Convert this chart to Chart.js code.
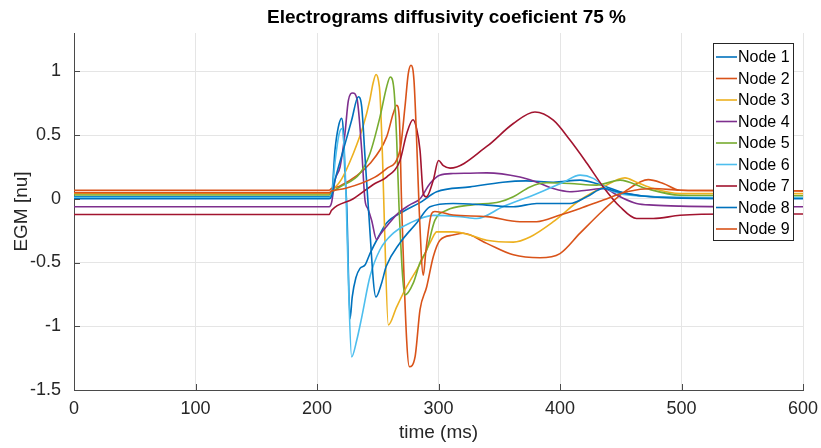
<!DOCTYPE html>
<html>
<head>
<meta charset="utf-8">
<script src="https://cdn.jsdelivr.net/npm/chart.js@4.4.1/dist/chart.umd.min.js"></script>
<style>html,body{margin:0;padding:0;background:#fff;}canvas{display:block;}</style>
</head>
<body>
<canvas id="c" width="821" height="448"></canvas>
<script>
// ---------- data ----------
const titleText = 'Electrograms diffusivity coeficient 75 %';
const xTitle = 'time (ms)';
const yTitle = 'EGM [nu]';
const xTicks = [0, 100, 200, 300, 400, 500, 600];
const yTicks = [-1.5, -1, -0.5, 0, 0.5, 1];
const seriesNames = ['Node 1','Node 2','Node 3','Node 4','Node 5','Node 6','Node 7','Node 8','Node 9'];
const seriesColors = ['#0072BD','#D95319','#EDB120','#7E2F8E','#77AC30','#4DBEEE','#A2142F','#0072BD','#D95319'];

const node1T = [0,210,212,214.8,217.5,220.3,221.6,223,224.5,227.2,229,232,235.4,239.5,243.6,250.5,257.3,271,284.8,298.5,326,353,372,394.5,416.5,430,438.4,449.4,463,499,540,600];
const node1V = [0.015,0.015,0.03,0.38,0.56,0.63,0.54,0.2,-0.06,-0.94,-0.77,-0.62,-0.546,-0.52,-0.43,-0.30,-0.19,-0.10,-0.03,0.055,0.093,0.13,0.14,0.13,0.146,0.12,0.093,0.055,0.028,0.01,0.005,0.005];

const node2T = [0,210,212,219,243.6,257.3,262.8,265.6,267.7,269.7,273.8,276,280.7,284.8,290.3,295.7,301.2,312,320.4,339.7,361.6,383.5,400,416.5,435.6,455,472.6,485,498.8,540,600];
const node2V = [0.067,0.067,0.08,0.1,0.277,0.485,0.67,0.733,0.64,-0.06,-1.11,-1.317,-1.24,-0.87,-0.69,-0.455,-0.325,-0.285,-0.27,-0.35,-0.44,-0.463,-0.43,-0.27,-0.09,0.067,0.15,0.12,0.067,0.064,0.062];

const node3T = [0,210,212,220,229.9,238,243.6,246,248.6,250.5,251.8,254,255.5,258.7,265.5,273.8,284.8,294.4,298.5,312,326,339.7,361.6,375.3,394.5,416.5,435.6,453.5,463,476.8,498.8,540,600];
const node3V = [0.04,0.04,0.06,0.15,0.355,0.57,0.78,0.9,0.974,0.93,0.825,0.3,-0.2,-0.99,-0.85,-0.69,-0.51,-0.32,-0.26,-0.26,-0.285,-0.325,-0.34,-0.30,-0.18,-0.01,0.093,0.164,0.13,0.08,0.04,0.04,0.04];

const node4T = [0,210,212,214.8,219,223,225.8,229.4,233,236.8,239.5,242,245,249,252,257,266,276,284.8,293,301,312,326,339.7,367,380.8,394.5,408.2,422,435.6,449.4,463,476.8,499,540,600];
const node4V = [-0.063,-0.063,-0.03,0.146,0.25,0.51,0.77,0.83,0.78,0.38,-0.01,-0.08,-0.17,-0.32,-0.28,-0.22,-0.12,-0.05,0.0,0.12,0.185,0.198,0.20,0.203,0.17,0.13,0.08,0.055,0.067,0.08,0.015,-0.037,-0.05,-0.058,-0.062,-0.063];

const node5T = [0,210,212,219,235.4,243.6,251.8,257.3,260.3,263.4,265.6,267.5,272.4,279.3,284.8,290.3,297,306.7,326,350.6,361.6,375.3,389,408.2,430,449.4,471,498.8,540,600];
const node5V = [0.03,0.03,0.05,0.093,0.2,0.355,0.64,0.877,0.955,0.85,0.46,-0.06,-0.755,-0.66,-0.5,-0.40,-0.17,-0.09,-0.05,-0.024,0.015,0.093,0.125,0.12,0.107,0.146,0.08,0.028,0.025,0.023];

const node6T = [0,210,212,215,218,220.5,222.5,224,226,228.5,232.7,236.8,243.6,251.8,262.8,276.5,295.7,317.7,331.4,353,380.8,402.7,416.5,427.4,438.4,449.4,470,500,600];
const node6V = [0.01,0.01,0.03,0.3,0.5,0.55,0.38,0.0,-0.7,-1.24,-1.11,-0.93,-0.61,-0.40,-0.27,-0.19,-0.13,-0.14,-0.155,-0.063,0.04,0.13,0.185,0.16,0.08,0.04,0.02,0.01,0.01];

const node7T = [0,210,212,229.9,247.7,257.3,268.3,273.8,279,282,284.8,287.5,290,295.7,300,304,309.5,339.7,361.6,379.4,394.5,408.2,422,435.6,449.4,463,476.8,498.8,540,600];
const node7V = [-0.123,-0.123,-0.09,0.0,0.12,0.17,0.30,0.51,0.62,0.55,0.38,0.04,0.015,0.146,0.30,0.26,0.24,0.41,0.59,0.68,0.616,0.46,0.28,0.093,-0.063,-0.155,-0.155,-0.13,-0.12,-0.12];

const node8T = [0,210,212,214.8,221.6,228.5,234,236.8,239.5,242.2,248.5,253.2,257,268,282,293,312,339.7,361.6,380.8,408.2,422,435.6,449.4,470,500,600];
const node8V = [0,0,0.02,0.146,0.38,0.616,0.80,0.72,0.33,-0.06,-0.77,-0.66,-0.53,-0.35,-0.19,-0.063,-0.037,-0.05,-0.063,-0.037,-0.037,0.015,0.08,0.05,0.02,0.005,0];

const node9T = [0,210,212,223,247.7,257.3,268.3,272.4,275.1,277.4,279.8,282,284,287.5,289.7,294.4,297,312,339.7,367,380.8,400,416.5,435.6,455,476.8,498.8,540,600];
const node9V = [0.048,0.048,0.06,0.08,0.17,0.237,0.38,0.72,0.98,1.047,0.93,0.46,-0.06,-0.60,-0.40,-0.115,-0.10,-0.128,-0.14,-0.18,-0.18,-0.128,-0.076,-0.01,0.055,0.08,0.067,0.064,0.062];

const seriesTimes = [node1T,node2T,node3T,node4T,node5T,node6T,node7T,node8T,node9T];
const seriesValues = [node1V,node2V,node3V,node4V,node5V,node6V,node7V,node8V,node9V];

// ---------- chart ----------
const FONT = "'Liberation Sans', Arial, Helvetica, sans-serif";

const datasets = seriesNames.map((name, i) => ({
  label: name,
  data: seriesTimes[i].map((t, k) => ({x: t, y: seriesValues[i][k]})),
  borderColor: seriesColors[i],
  backgroundColor: seriesColors[i],
  borderWidth: 1.6,
  pointRadius: 0,
  pointHoverRadius: 0,
  fill: false,
  cubicInterpolationMode: 'monotone',
  order: seriesNames.length - i
}));

const inwardTicks = {
  id: 'inwardTicks',
  afterDatasetsDraw(chart) {
    const {ctx, chartArea: a, scales: {x, y}} = chart;
    ctx.save();
    ctx.strokeStyle = '#4a4a4a';
    ctx.lineWidth = 1;
    ctx.beginPath();
    xTicks.forEach(v => {
      const p = Math.round(x.getPixelForValue(v)) + 0.5;
      ctx.moveTo(p, a.bottom); ctx.lineTo(p, a.bottom - 6);
    });
    yTicks.forEach(v => {
      const p = Math.round(y.getPixelForValue(v)) + 0.5;
      ctx.moveTo(a.left, p); ctx.lineTo(a.left + 6, p);
    });
    ctx.stroke();
    ctx.restore();
  }
};

const titleAndLegend = {
  id: 'titleAndLegend',
  afterDraw(chart) {
    const {ctx, chartArea: a} = chart;
    ctx.save();
    // title
    ctx.fillStyle = '#000000';
    ctx.font = 'bold 19px ' + FONT;
    ctx.textAlign = 'center';
    ctx.textBaseline = 'middle';
    ctx.fillText(titleText, (a.left + a.right) / 2 + 8, 18);
    // legend
    const w = 80, rowH = 21.5, h = 197;
    const x0 = a.right - 10 - w, y0 = a.top + 10;
    ctx.fillStyle = '#ffffff';
    ctx.fillRect(x0, y0, w, h);
    ctx.strokeStyle = '#262626';
    ctx.lineWidth = 1;
    ctx.strokeRect(Math.round(x0) + 0.5, Math.round(y0) + 0.5, w, h);
    ctx.font = '16px ' + FONT;
    ctx.textBaseline = 'middle';
    ctx.textAlign = 'left';
    chart.data.datasets.forEach((ds, i) => {
      const yy = y0 + 14 + i * rowH;
      ctx.strokeStyle = ds.borderColor;
      ctx.lineWidth = 1.6;
      ctx.beginPath();
      ctx.moveTo(x0 + 3, yy); ctx.lineTo(x0 + 24, yy);
      ctx.stroke();
      ctx.fillStyle = '#000000';
      ctx.fillText(ds.label, x0 + 25, yy + 1);
    });
    ctx.restore();
  }
};

new Chart(document.getElementById('c'), {
  type: 'line',
  data: {datasets},
  options: {
    responsive: false,
    devicePixelRatio: 1,
    animation: false,
    layout: {padding: {left: 0, right: 18, top: 33, bottom: 0}},
    plugins: {
      legend: {display: false},
      tooltip: {enabled: false},
      title: {display: false}
    },
    scales: {
      x: {
        type: 'linear', min: 0, max: 600,
        afterBuildTicks: s => { s.ticks = xTicks.map(v => ({value: v})); },
        afterFit: s => { s.height = 58; s.paddingLeft = 0; s.paddingRight = 0; },
        ticks: {color: '#262626', font: {family: FONT, size: 18}, padding: 8, maxRotation: 0, autoSkip: false, callback: v => String(v)},
        grid: {color: '#e5e5e5', lineWidth: 1, drawTicks: false},
        border: {display: true, color: '#4a4a4a', width: 1},
        title: {display: true, text: xTitle, color: '#262626', font: {family: FONT, size: 19}, padding: {top: 0, bottom: 4}}
      },
      y: {
        type: 'linear', min: -1.5, max: 1.3,
        afterBuildTicks: s => { s.ticks = yTicks.map(v => ({value: v})); },
        afterFit: s => { s.width = 74; s.paddingTop = 0; s.paddingBottom = 0; },
        ticks: {color: '#262626', font: {family: FONT, size: 18}, padding: 13, autoSkip: false, callback: v => String(v)},
        grid: {color: '#e5e5e5', lineWidth: 1, drawTicks: false},
        border: {display: true, color: '#4a4a4a', width: 1},
        title: {display: true, text: yTitle, color: '#262626', font: {family: FONT, size: 19}, padding: {top: 10, bottom: 0}}
      }
    }
  },
  plugins: [inwardTicks, titleAndLegend]
});
</script>
</body>
</html>
